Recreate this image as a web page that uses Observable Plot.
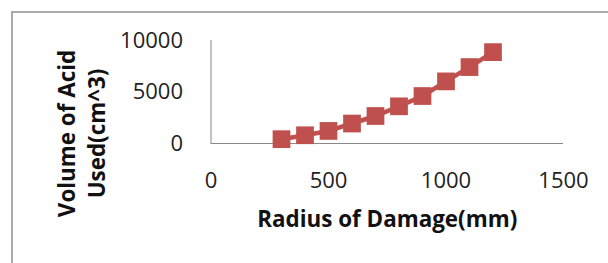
<!DOCTYPE html>
<html><head><meta charset="utf-8">
<script src="https://cdn.jsdelivr.net/npm/d3@7"></script>
<script src="https://cdn.jsdelivr.net/npm/@observablehq/plot@0.6"></script>
<style>
body{margin:0;background:#fff}
#wrap{position:relative;width:608px;height:263px;overflow:hidden;font-family:"Open Sans",sans-serif}
#wrap svg{position:absolute;left:0;top:0}
#frame{position:absolute;left:11px;top:11px;width:700px;height:400px;border-left:2px solid #ababab;border-top:2px solid #ababab;pointer-events:none}
</style></head><body><div id="wrap"><div id="frame"></div></div>
<script>
const radius = [300, 400, 500, 600, 700, 800, 900, 1000, 1100, 1200];
const volume = [420, 800, 1220, 1940, 2670, 3610, 4610, 6030, 7420, 8870];
const xTicks = [0, 500, 1000, 1500];
const yTicks = [0, 5000, 10000];
const xTitle = "Radius of Damage(mm)";
const yTitle = ["Volume of Acid", "Used(cm^3)"];

const data = radius.map((r, i) => ({r, v: volume[i]}));

const chart = Plot.plot({
  width: 608,
  height: 263,
  marginLeft: 210.5,
  marginRight: 45,
  marginTop: 40,
  marginBottom: 120,
  style: {fontFamily: '"Open Sans", sans-serif', background: "transparent", overflow: "visible"},
  x: {domain: [0, 1500]},
  y: {domain: [0, 10000]},
  marks: [
    Plot.ruleX([0], {stroke: "#888", strokeWidth: 1}),
    Plot.ruleY([0], {stroke: "#888", strokeWidth: 1}),
    Plot.axisX({ticks: xTicks, tickSize: 0, tickPadding: 29, fontSize: 22, fill: "#222", label: null, tickFormat: d => String(d)}),
    Plot.axisY({ticks: yTicks, tickSize: 0, tickPadding: 28, fontSize: 22, fill: "#222", label: null, tickFormat: d => String(d)}),
    Plot.text([xTitle], {frameAnchor: "bottom", lineAnchor: "top", dy: 68, fontSize: 22.4, fontWeight: "bold", fill: "#111"}),
    Plot.text([yTitle.join("\n")], {frameAnchor: "left", rotate: -90, dx: -131, dy: 41.5, lineHeight: 1.34, lineAnchor: "middle", textAnchor: "middle", fontSize: 22.4, fontWeight: "bold", fill: "#111"}),
    Plot.line(data, {x: "r", y: "v", stroke: "#C0504D", strokeWidth: 4.5}),
    Plot.dot(data, {x: "r", y: "v", symbol: "square", r: 10, fill: "#C0504D", stroke: "none"})
  ]
});
document.getElementById("wrap").prepend(chart);
</script>
</body></html>
